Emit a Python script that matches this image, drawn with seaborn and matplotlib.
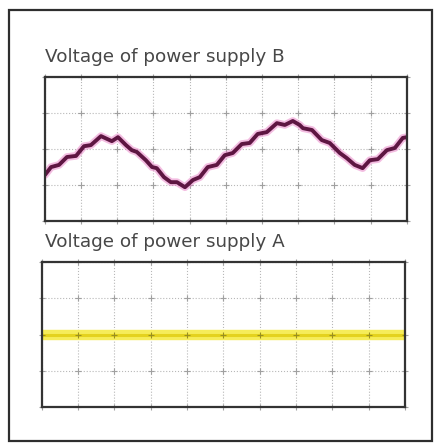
import numpy as np
import matplotlib
matplotlib.use('Agg')
import matplotlib.pyplot as plt
import seaborn as sns
from matplotlib.patches import Rectangle

# trace of supply B (scope divisions: x 0..10, y 0..4)
b_time = [0.0, 0.17, 0.39, 0.61, 0.86, 1.08, 1.27, 1.55, 1.85, 2.02, 2.24, 2.40,
          2.54, 2.79, 2.96, 3.09, 3.29, 3.48, 3.65, 3.87, 4.09, 4.28, 4.50, 4.75,
          4.97, 5.19, 5.44, 5.66, 5.88, 6.13, 6.41, 6.63, 6.85, 7.04, 7.13, 7.38,
          7.65, 7.87, 8.15, 8.34, 8.56, 8.78, 8.98, 9.20, 9.45, 9.67, 9.89, 10.0]
b_volt = [1.28, 1.50, 1.56, 1.78, 1.81, 2.08, 2.11, 2.36, 2.22, 2.33, 2.11, 1.97,
          1.92, 1.69, 1.50, 1.47, 1.22, 1.08, 1.08, 0.94, 1.14, 1.22, 1.50, 1.56,
          1.83, 1.89, 2.14, 2.17, 2.42, 2.47, 2.72, 2.67, 2.78, 2.67, 2.58, 2.53,
          2.25, 2.17, 1.89, 1.75, 1.56, 1.47, 1.69, 1.72, 1.97, 2.03, 2.31, 2.33]

# trace of supply A: flat
a_time = [0.0, 2.5, 5.0, 7.5, 10.0]
a_volt = [2.0, 2.0, 2.0, 2.0, 2.0]

titles = ['Voltage of power supply B', 'Voltage of power supply A']

sns.set_style('white')
fig = plt.figure(figsize=(4.36, 4.43), dpi=100)
fig.patch.set_facecolor('white')

# outer frame
fig.patches.append(Rectangle((0.021, 0.005), 0.970, 0.972, transform=fig.transFigure,
                             fill=False, edgecolor='#2e2e2e', linewidth=1.6))

ax_b = fig.add_axes([0.103, 0.501, 0.830, 0.325])
ax_a = fig.add_axes([0.096, 0.081, 0.833, 0.327])


def scope(ax):
    ax.set_xlim(0, 10)
    ax.set_ylim(0, 4)
    ax.set_xticks(range(11))
    ax.set_yticks(range(5))
    ax.tick_params(length=0, labelbottom=False, labelleft=False)
    ax.grid(True, linestyle=':', color='#b8b8b8', linewidth=0.8)
    gx, gy = np.meshgrid(range(0, 11), range(0, 5))
    ax.plot(gx.ravel(), gy.ravel(), '+', color='#a0a0a0', markersize=4,
            markeredgewidth=0.8, clip_on=False)
    ax.set_xlabel('')
    ax.set_ylabel('')
    for s in ax.spines.values():
        s.set_color('#333333')
        s.set_linewidth(1.6)


scope(ax_b)
sns.lineplot(x=b_time, y=b_volt, ax=ax_b, color='#e87cc4', linewidth=5.5, alpha=0.5)
sns.lineplot(x=b_time, y=b_volt, ax=ax_b, color='#5e1642', linewidth=2.8)

scope(ax_a)
sns.lineplot(x=a_time, y=a_volt, ax=ax_a, color='#f6ec5a', linewidth=7.5)
sns.lineplot(x=a_time, y=a_volt, ax=ax_a, color='#e4d21e', linewidth=2.2)
ax_a.plot(range(0, 11), [2] * 11, '+', color='#9a8f20', markersize=4, markeredgewidth=0.8)

fig.text(0.103, 0.871, titles[0], fontsize=13.2, color='#474747', va='center', ha='left')
fig.text(0.103, 0.454, titles[1], fontsize=13.2, color='#474747', va='center', ha='left')

plt.savefig('out.png', dpi=100)
